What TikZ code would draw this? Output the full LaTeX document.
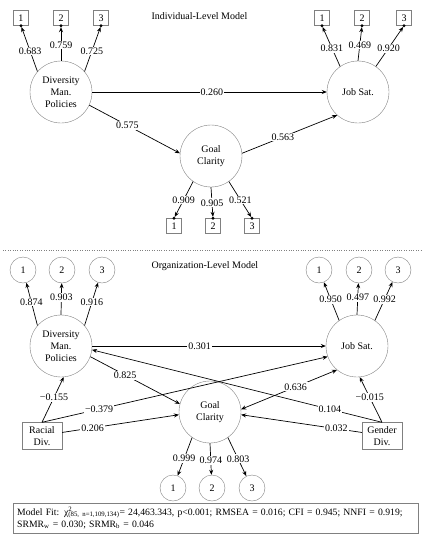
\documentclass[tikz,border=0pt]{standalone}
\usepackage{fontspec}
\setmainfont{Liberation Serif}
\usetikzlibrary{arrows.meta}

\begin{document}
\begin{tikzpicture}[
        x=1pt, y=-1pt,
        every node/.style={font=\fontsize{10}{12}\selectfont},
        latent/.style={circle, draw=gray, thin, minimum size=62pt, inner sep=0pt, align=center},
        item/.style={rectangle, draw=gray, thin, minimum size=15pt, inner sep=0pt},
        itemc/.style={circle, draw=gray, thin, minimum size=26pt, inner sep=0pt},
        cov/.style={rectangle, draw=gray, thin, minimum width=40pt, minimum height=27pt, inner sep=1pt, align=center},
        lbl/.style={fill=white, inner sep=1pt},
        reg/.style={-{Stealth[length=5pt,width=4pt]}, line width=0.7pt},
        dual/.style={{Stealth[length=5pt,width=4pt]}-{Stealth[length=5pt,width=4pt]}, line width=0.7pt},
        fitbox/.style={rectangle, draw=gray, thin, text width=397pt, minimum height=30pt, inner sep=4pt, align=left,
            font=\fontsize{9.7}{12}\selectfont}
    ]
    \useasboundingbox (0,0) rectangle (425,550);

    % Individual-Level Model
    \node[anchor=west] (t1) at (148,16) {Individual-Level Model};

    \node[latent] (dmp) at (61,92)  {Diversity\\Man.\\Policies};
    \node[latent] (js)  at (358,92) {Job Sat.};
    \node[latent] (gc)  at (211,156) {Goal\\Clarity};

    \node[item] (ia1) at (21,18)  {1};
    \node[item] (ia2) at (61,18)  {2};
    \node[item] (ia3) at (101,18) {3};
    \node[item] (jb1) at (322,18) {1};
    \node[item] (jb2) at (362,18) {2};
    \node[item] (jb3) at (404,18) {3};
    \node[item] (gb1) at (174,226) {1};
    \node[item] (gb2) at (213,226) {2};
    \node[item] (gb3) at (252,226) {3};

    \draw[reg, shorten >=1.5pt] (dmp.139) -- node[lbl, pos=0.45] {0.683} (ia1.south);
    \draw[reg, shorten >=1.5pt] (dmp.90)  -- node[lbl, pos=0.45] {0.759} (ia2.south);
    \draw[reg, shorten >=1.5pt] (dmp.41)  -- node[lbl, pos=0.45] {0.725} (ia3.south);
    \draw[reg, shorten >=1.5pt] (js.125)  -- node[lbl, pos=0.45] {0.831} (jb1.south);
    \draw[reg, shorten >=1.5pt] (js.90)   -- node[lbl, pos=0.45] {0.469} (jb2.south);
    \draw[reg, shorten >=1.5pt] (js.55)   -- node[lbl, pos=0.45] {0.920} (jb3.south);
    \draw[reg, shorten >=1.5pt] (gc.235)  -- node[lbl, pos=0.5] {0.909} (gb1.north);
    \draw[reg, shorten >=1.5pt] (gc.270)  -- node[lbl, pos=0.5] {0.905} (gb2.north);
    \draw[reg, shorten >=1.5pt] (gc.305)  -- node[lbl, pos=0.5] {0.521} (gb3.north);

    \foreach \b in {ia1,ia2,ia3,jb1,jb2,jb3}
        \fill (\b.south) circle (1.6pt);
    \foreach \b in {gb1,gb2,gb3}
        \fill (\b.north) circle (1.6pt);

    \draw[reg] (dmp.east) -- node[lbl, pos=0.51] {0.260} (js.west);
    \draw[reg] (dmp.-25)  -- node[lbl, pos=0.42] {0.575} (gc.175);
    \draw[reg] (gc.5)     -- node[lbl, pos=0.43] {0.563} (js.228);

    % Trenner
    \draw[gray, dotted, thin] (3,250) -- (422,250);

    % Organization-Level Model
    \node[anchor=west] (t2) at (148,266) {Organization-Level Model};

    \node[latent] (dmp2) at (61,346)  {Diversity\\Man.\\Policies};
    \node[latent] (js2)  at (357,346) {Job Sat.};
    \node[latent] (gc2)  at (210,412) {Goal\\Clarity};

    \node[itemc] (oa1) at (23,270)  {1};
    \node[itemc] (oa2) at (62,270)  {2};
    \node[itemc] (oa3) at (102,270) {3};
    \node[itemc] (ob1) at (319,270) {1};
    \node[itemc] (ob2) at (359,270) {2};
    \node[itemc] (ob3) at (398,270) {3};
    \node[itemc] (oc1) at (173,488) {1};
    \node[itemc] (oc2) at (212,488) {2};
    \node[itemc] (oc3) at (252,488) {3};

    \node[cov] (rd) at (42,436)  {Racial\\Div.};
    \node[cov] (gd) at (382,436) {Gender\\Div.};

    \draw[reg] (dmp2.139) -- node[lbl, pos=0.55] {0.874} (oa1);
    \draw[reg] (dmp2.90)  -- node[lbl, pos=0.55] {0.903} (oa2);
    \draw[reg] (dmp2.41)  -- node[lbl, pos=0.55] {0.916} (oa3);
    \draw[reg] (js2.125)  -- node[lbl, pos=0.55] {0.950} (ob1);
    \draw[reg] (js2.90)   -- node[lbl, pos=0.55] {0.497} (ob2);
    \draw[reg] (js2.55)   -- node[lbl, pos=0.55] {0.992} (ob3);
    \draw[reg] (gc2.235)  -- node[lbl, pos=0.55] {0.999} (oc1);
    \draw[reg] (gc2.270)  -- node[lbl, pos=0.55] {0.974} (oc2);
    \draw[reg] (gc2.305)  -- node[lbl, pos=0.55] {0.803} (oc3);

    \draw[reg]  (dmp2.east) -- node[lbl, pos=0.46] {0.301} (js2.west);
    \draw[reg]  (dmp2.-20)  -- node[lbl, pos=0.39] {0.825} (gc2.165);
    \draw[dual] (gc2.5)     -- node[lbl, pos=0.57] {0.636} (js2.230);

    \draw[reg] (rd.north) -- node[lbl, pos=0.55] {−0.155} (dmp2.275);
    \draw[reg] (rd.north) -- node[lbl, pos=0.20] {−0.379} (js2.200);
    \draw[reg] (rd.10)    -- node[lbl, pos=0.26] {0.206} (gc2.185);

    \draw[reg] (gd.north) -- node[lbl, pos=0.55] {−0.015} (js2.275);
    \draw[reg] (gd.north) -- node[lbl, pos=0.18] {0.104} (dmp2.-7);
    \draw[reg] (gd.170)   -- node[lbl, pos=0.21] {0.032} (gc2.-5);

    % Model Fit
    \node[fitbox, anchor=north west] (fit) at (13,503)
        {Model Fit: χ\rlap{\textsuperscript{2}}\textsubscript{(85, n=1,109,134)}= 24,463.343, p<0.001; RMSEA = 0.016; CFI = 0.945; NNFI = 0.919;\\
         SRMR\textsubscript{w} = 0.030; SRMR\textsubscript{b} = 0.046};

\end{tikzpicture}
\end{document}
